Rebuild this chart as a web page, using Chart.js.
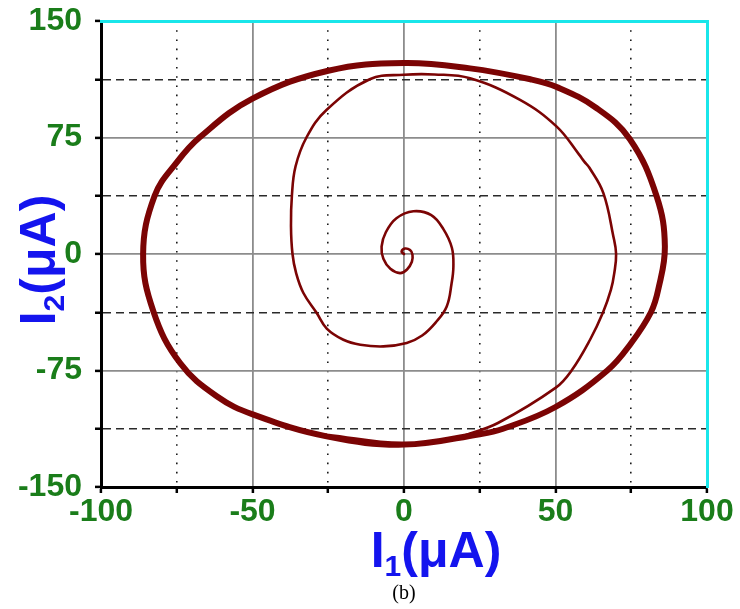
<!DOCTYPE html>
<html>
<head>
<meta charset="utf-8">
<title>I1 / I2 phase plot</title>
<script src="https://cdn.jsdelivr.net/npm/chart.js@4.4.1/dist/chart.umd.min.js"></script>
<style>
	html, body { margin: 0; padding: 0; background: #fff; }
	canvas { display: block; }
</style>
</head>
<body>
<canvas id="phase-chart" width="740" height="609"></canvas>
<script>
// spiral from the origin out to where it joins the limit cycle (µA)
const spiralI1 = [0, -0.8, 0.3, 2, 2.8, 2.6, 1, -1.3, -4.5, -6.8, -7.4, -6, -2.5, 3.1, 9, 13, 15.8, 16.3, 15.7, 14.1, 10.5, 6, 0.9, -6.8, -14.4, -20, -25.5, -28.8, -33.2, -35.6, -36.8, -37.3, -37, -35.8, -32.2, -25.6, -11.3, 0, 10, 21.8, 38.3, 50.4, 57.8, 59.5, 61.2, 65.8, 69.1, 70, 69.4, 68.3, 65.7, 61.4, 55.3, 50, 31, 20];
const spiralI2 = [0, 1.5, 3.5, 2.5, -0.5, -5, -10, -12.3, -9.5, -3, 4.8, 14, 23, 27.5, 25, 16, 4, -8, -19, -33.8, -44, -52.5, -57.3, -59.5, -58.4, -55.2, -48, -38, -25.1, -12.3, 0, 18, 37.5, 56.3, 75, 92.7, 112.5, 115.4, 115.6, 113.1, 99.2, 82, 64, 59.5, 55.5, 39.2, 11.3, 0, -12.3, -23, -37.5, -55.2, -75, -86.2, -108.8, -116.8];

// limit cycle (thick band), one turn plus a short overlap
const cycleI1 = [25, 0, -25.5, -49.7, -61.8, -73.9, -82.7, -86.1, -82.3, -75, -67.5, -50, -25, 0, 21.8, 41.7, 50.4, 63.5, 74.5, 83.4, 86.1, 83.9, 81.5, 75, 67.1, 50, 32.7, 25, 0, -25.5];
const cycleI2 = [-116, -122.7, -117.4, -103.4, -91.6, -70.2, -37, 0, 37.5, 59, 75, 100, 118, 123, 119.5, 112.5, 107.5, 94, 74, 37, 4.8, -23, -37.5, -57.3, -75, -98.5, -112.5, -116, -122.7, -117.4];

const xLabels = [-100, -50, 0, 50, 100];
const yLabels = [-150, -75, 0, 75, 150];

const green = '#1a7d1a',
	blue = '#1414ee',
	wine = '#7b0404',
	sans = '"Liberation Sans", Arial, sans-serif';

const pts = (xs, ys) => xs.map((x, i) => ({x, y: ys[i]}));
const tickVal = c => (c.tick ? c.tick.value : null);

// axis titles with real subscripts
const axisTitles = {
	id: 'axisTitles',
	afterDraw(chart) {
		const {ctx, chartArea: a} = chart;

		const title = (sub, x, y, rot) => {
			ctx.save();
			ctx.translate(x, y);
			ctx.rotate(rot);
			ctx.fillStyle = blue;
			ctx.textBaseline = 'alphabetic';
			ctx.textAlign = 'left';
			const big = 'bold 50px ' + sans, small = 'bold 30px ' + sans;
			ctx.font = big;
			const w1 = ctx.measureText('I').width, w3 = ctx.measureText('(\u03BCA)').width;
			ctx.font = small;
			const w2 = ctx.measureText(sub).width;
			let cx = -(w1 + w2 + w3) / 2;
			ctx.font = big;
			ctx.fillText('I', cx, 0);
			cx += w1;
			ctx.font = small;
			ctx.fillText(sub, cx, 9);
			cx += w2;
			ctx.font = big;
			ctx.fillText('(\u03BCA)', cx, 0);
			ctx.restore();
		};

		title('1', (a.left + a.right) / 2 + 32, a.bottom + 80, 0);
		title('2', a.left - 46, (a.top + a.bottom) / 2 + 6, -Math.PI / 2);

		ctx.save();
		ctx.fillStyle = '#000';
		ctx.font = '20px "Liberation Serif", "Times New Roman", serif';
		ctx.textAlign = 'center';
		ctx.textBaseline = 'alphabetic';
		ctx.fillText('(b)', (a.left + a.right) / 2, a.bottom + 112);
		ctx.restore();
	}
};

const edgeAxis = (position, size) => ({
	type: 'linear',
	position,
	min: position === 'top' ? -100 : -150,
	max: position === 'top' ? 100 : 150,
	ticks: {display: false},
	grid: {drawOnChartArea: false, drawTicks: false},
	border: {color: '#19e6ea', width: 3},
	afterFit: s => {
		if (s.isHorizontal()) s.height = size;
		else s.width = size;
		s.paddingTop = s.paddingBottom = s.paddingLeft = s.paddingRight = 0;
	}
});

new Chart(document.getElementById('phase-chart'), {
	type: 'line',
	data: {
		datasets: [
			{
				data: pts(cycleI1, cycleI2),
				borderColor: wine,
				borderWidth: 6,
				tension: 0.4,
				fill: false,
				pointRadius: 0
			},
			{
				data: pts(spiralI1, spiralI2),
				borderColor: wine,
				borderWidth: 2.6,
				tension: 0.4,
				fill: false,
				pointRadius: 0
			}
		]
	},
	options: {
		responsive: false,
		animation: false,
		layout: {padding: 0},
		elements: {
			line: {capBezierPoints: false, borderCapStyle: 'round', borderJoinStyle: 'round'}
		},
		plugins: {
			legend: {display: false},
			tooltip: {enabled: false}
		},
		scales: {
			x: {
				type: 'linear',
				position: 'bottom',
				min: -100,
				max: 100,
				ticks: {
					stepSize: 25,
					autoSkip: false,
					maxRotation: 0,
					padding: 0,
					color: green,
					font: {family: sans, size: 32, weight: 'bold'},
					callback: v => (xLabels.includes(v) ? String(v) : '')
				},
				grid: {
					color: c => {
						const v = tickVal(c);
						if (v === -100 || v === 100) return 'rgba(0,0,0,0)';
						return v % 50 === 0 ? '#8c8c8c' : '#1a1a1a';
					},
					lineWidth: c => (tickVal(c) % 50 === 0 ? 1.8 : 1.6),
					tickColor: '#000',
					tickWidth: 2.5,
					tickLength: 6,
					tickBorderDash: []
				},
				border: {
					color: '#000',
					width: 3,
					dash: c => (c.tick && c.tick.value % 50 !== 0 ? [1.6, 7.6] : [])
				},
				afterFit: s => {
					s.height = 122;
					s.paddingLeft = s.paddingRight = 0;
				}
			},
			y: {
				type: 'linear',
				position: 'left',
				min: -150,
				max: 150,
				ticks: {
					stepSize: 37.5,
					autoSkip: false,
					padding: 13,
					color: green,
					font: {family: sans, size: 32, weight: 'bold'},
					callback: v => (yLabels.includes(v) ? String(v) : '')
				},
				grid: {
					color: c => {
						const v = tickVal(c);
						if (v === -150 || v === 150) return 'rgba(0,0,0,0)';
						return v % 75 === 0 ? '#8c8c8c' : '#2a2a2a';
					},
					lineWidth: c => (tickVal(c) % 75 === 0 ? 1.8 : 1.5),
					tickColor: '#000',
					tickWidth: 2.5,
					tickLength: 6,
					tickBorderDash: []
				},
				border: {
					color: '#000',
					width: 3,
					dash: c => (c.tick && c.tick.value % 75 !== 0 ? [8, 5] : [])
				},
				afterFit: s => {
					s.width = 101;
					s.paddingTop = s.paddingBottom = 0;
				}
			},
			x2: edgeAxis('top', 21),
			y2: edgeAxis('right', 33)
		}
	},
	plugins: [axisTitles]
});
</script>
</body>
</html>
